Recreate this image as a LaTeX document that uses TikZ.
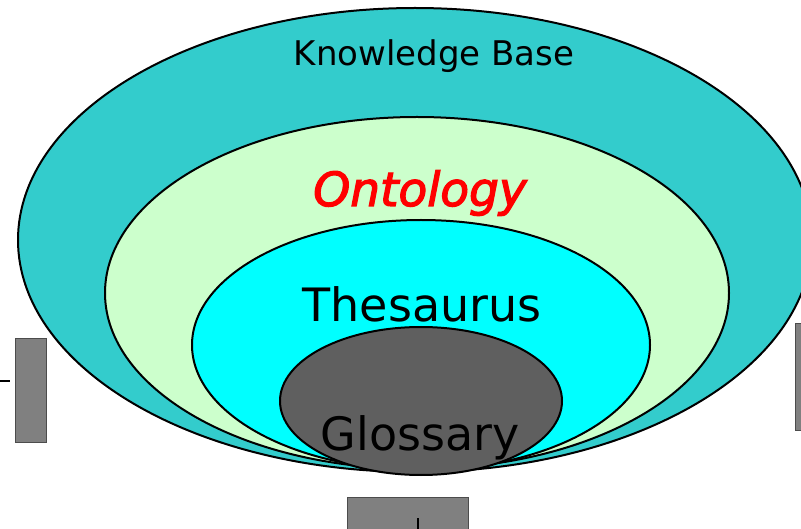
\documentclass[tikz,border=0pt]{standalone}
\usepackage{fontspec}
\setmainfont{DejaVu Sans}
\usetikzlibrary{shapes.geometric}
\definecolor{kbcol}{HTML}{33CCCC}
\definecolor{ontcol}{HTML}{CCFFCC}
\definecolor{thescol}{HTML}{00FFFF}
\definecolor{glocol}{HTML}{5F5F5F}
\definecolor{boxcol}{HTML}{808080}
\newcommand{\heavytext}[1]{\special{pdf:literal direct 2 Tr 1.2 w}#1\special{pdf:literal direct 0 Tr}}
\tikzset{
  ring/.style={ellipse, draw=black, line width=2pt, inner sep=0pt, outer sep=0pt},
  greybox/.style={draw=black!70, line width=0.8pt, fill=boxcol},
  label/.style={anchor=base, inner sep=0pt},
  tick/.style={draw=black, line width=1.6pt}
}
\begin{document}
\begin{tikzpicture}[x=1pt,y=-1pt]
\useasboundingbox (0,0) rectangle (801,529);
\clip (0,0) rectangle (801,529);
\node[ring, fill=kbcol, minimum width=794pt, minimum height=464pt] (kb) at (415,240) {};
\node[ring, fill=ontcol, minimum width=624pt, minimum height=352pt] (ont) at (417,293) {};
\node[ring, fill=thescol, minimum width=458pt, minimum height=250pt] (thes) at (421,345) {};
\node[ring, fill=glocol, minimum width=282pt, minimum height=148pt] (glo) at (421,401) {};
\node[label, font=\fontsize{34}{40}\selectfont] (kbt) at (434,66) {Knowledge Base};
\node[label, font=\fontsize{47}{52}\selectfont\itshape, text=red] (ontt) at (420,206) {\heavytext{Ontology}};
\node[label, font=\fontsize{46}{52}\selectfont] (thest) at (422,322) {Thesaurus};
\node[label, font=\fontsize{46}{52}\selectfont] (glot) at (420,450) {Glossary};
\path[greybox] (15,338) rectangle (46,442);
\path[greybox] (795,323) rectangle (806,430);
\path[greybox] (347,497) rectangle (468,533);
\coordinate (la) at (0,381);
\coordinate (lb) at (10,381);
\draw[tick] (la) -- (lb);
\coordinate (ba) at (418,518);
\coordinate (bb) at (418,529);
\draw[tick] (ba) -- (bb);
\end{tikzpicture}
\end{document}
